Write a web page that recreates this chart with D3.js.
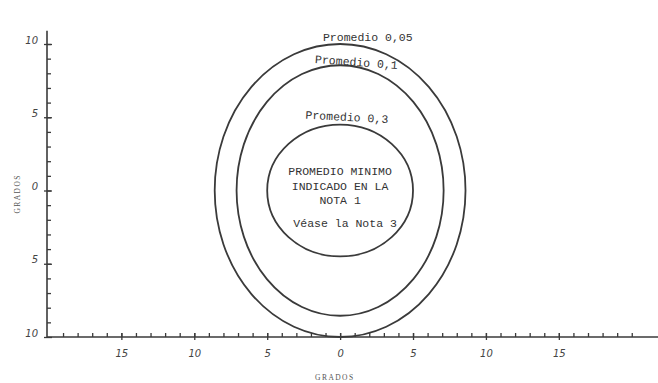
<!DOCTYPE html>
<html>
<head>
<meta charset="utf-8">
<script src="https://cdn.jsdelivr.net/npm/d3@7"></script>
<style>
  html, body { margin: 0; padding: 0; background: #fff; }
  svg { display: block; }
</style>
</head>
<body>
<svg id="chart" width="658" height="383"></svg>
<script>
// Contour levels: semi-axes in degrees (horizontal, vertical) and centres
const contourNames = ["Promedio 0,05", "Promedio 0,1", "Promedio 0,3"];
const contourRx = [8.6, 7.1, 5.0];
const contourRy = [10.0, 8.55, 4.5];
const contourCx = [0, 0, 0];
const contourCy = [0, 0, 0];

// Axis ticks (degrees) and their printed labels
const xMajorTicks = [-15, -10, -5, 0, 5, 10, 15];
const xTickLabels = ["15", "10", "5", "0", "5", "10", "15"];
const yMajorTicks = [10, 5, 0, -5, -10];
const yTickLabels = ["10", "5", "0", "5", "10"];
const xMinorTicks = d3.range(-19, 21);
const yMinorTicks = d3.range(-9, 11);

// Note inside the innermost contour
const centreNote = ["PROMEDIO MINIMO", "INDICADO EN LA", "NOTA 1"];
const seeNote = "Véase la Nota 3";
const axisTitle = "GRADOS";

const svg = d3.select("#chart");
const ink = "#3a3a3a";

const x = d3.scaleLinear().domain([-20.1, 21.8]).range([47, 658]);
const y = d3.scaleLinear().domain([-10, 10]).range([337, 44]);

// Axis lines
svg.append("line")
  .attr("x1", x(-20.1)).attr("x2", x(21.8))
  .attr("y1", y(-10)).attr("y2", y(-10))
  .attr("stroke", ink).attr("stroke-width", 1.6);
svg.append("line")
  .attr("x1", x(-20.1)).attr("x2", x(-20.1))
  .attr("y1", y(-10)).attr("y2", y(10.9))
  .attr("stroke", ink).attr("stroke-width", 1.6);

// X axis ticks: minor marks point up, majors cross the line
const xAxisMinor = d3.axisBottom(x).tickValues(xMinorTicks).tickSize(-4).tickFormat("");
const gxm = svg.append("g").attr("transform", `translate(0,${y(-10)})`).call(xAxisMinor);
const xAxisMajor = d3.axisBottom(x).tickValues(xMajorTicks).tickSize(3).tickPadding(10)
  .tickFormat((d, i) => xTickLabels[i]);
const gxM = svg.append("g").attr("transform", `translate(0,${y(-10)})`).call(xAxisMajor);
gxM.selectAll(".tick line").attr("y1", -4);

// Y axis ticks: minor marks point right, majors cross the line
const yAxisMinor = d3.axisLeft(y).tickValues(yMinorTicks).tickSize(-4).tickFormat("");
const gym = svg.append("g").attr("transform", `translate(${x(-20.1)},0)`).call(yAxisMinor);
const yAxisMajor = d3.axisLeft(y).tickValues(yMajorTicks).tickSize(3).tickPadding(6)
  .tickFormat((d, i) => yTickLabels[i]);
const gyM = svg.append("g").attr("transform", `translate(${x(-20.1)},0)`).call(yAxisMajor);
gyM.selectAll(".tick line").attr("x1", 5);

[gxm, gxM, gym, gyM].forEach(g => {
  g.select(".domain").remove();
  g.selectAll(".tick line").attr("stroke", ink).attr("stroke-width", 1.3);
  g.selectAll(".tick text")
    .attr("fill", "#444")
    .style("font-family", "'DejaVu Sans', sans-serif")
    .style("font-style", "italic")
    .style("font-size", "10px");
});
gyM.selectAll(".tick text").attr("dy", "-0.1em");

// Axis titles
svg.append("text")
  .attr("x", x(0) - 6).attr("y", 380)
  .attr("text-anchor", "middle")
  .attr("fill", "#555")
  .style("font-family", "'Liberation Serif', serif")
  .style("font-size", "7.5px")
  .attr("textLength", 38)
  .text(axisTitle);
svg.append("text")
  .attr("transform", `translate(20,${y(0) + 4}) rotate(-90)`)
  .attr("text-anchor", "middle")
  .attr("fill", "#555")
  .style("font-family", "'Liberation Serif', serif")
  .style("font-size", "7.5px")
  .attr("textLength", 38)
  .text(axisTitle);

// Contour ellipses
const contours = contourNames.map((name, i) => ({
  name, rx: contourRx[i], ry: contourRy[i], cx: contourCx[i], cy: contourCy[i]
}));

svg.append("g").selectAll("ellipse").data(contours).join("ellipse")
  .attr("cx", d => x(d.cx))
  .attr("cy", d => y(d.cy))
  .attr("rx", d => x(d.cx + d.rx) - x(d.cx))
  .attr("ry", d => y(d.cy - d.ry) - y(d.cy))
  .attr("fill", "none")
  .attr("stroke", ink)
  .attr("stroke-width", 1.8);

// Contour labels sit on the top of each ellipse (offsets in degrees)
const labelDx = [1.9, 1.1, 0.45];
const labelDy = [0.2, -0.05, 0.25];
const labelRot = [0, 4, 3];
svg.append("g").selectAll("text").data(contours).join("text")
  .attr("transform", (d, i) =>
    `translate(${x(d.cx + labelDx[i])},${y(d.cy + d.ry + labelDy[i])}) rotate(${labelRot[i]})`)
  .attr("text-anchor", "middle")
  .attr("fill", "#333")
  .style("font-family", "'Liberation Mono', monospace")
  .style("font-size", "11.5px")
  .text(d => d.name);

// Note inside the inner contour
const noteG = svg.append("g")
  .attr("fill", "#333")
  .style("font-family", "'Liberation Mono', monospace")
  .style("font-size", "11.5px");
noteG.selectAll("text.note").data(centreNote).join("text")
  .attr("class", "note")
  .attr("x", x(0))
  .attr("y", (d, i) => 175 + i * 14.5)
  .attr("text-anchor", "middle")
  .text(d => d);
noteG.append("text")
  .attr("x", x(0) + 5)
  .attr("y", 227)
  .attr("text-anchor", "middle")
  .text(seeNote);
</script>
</body>
</html>
